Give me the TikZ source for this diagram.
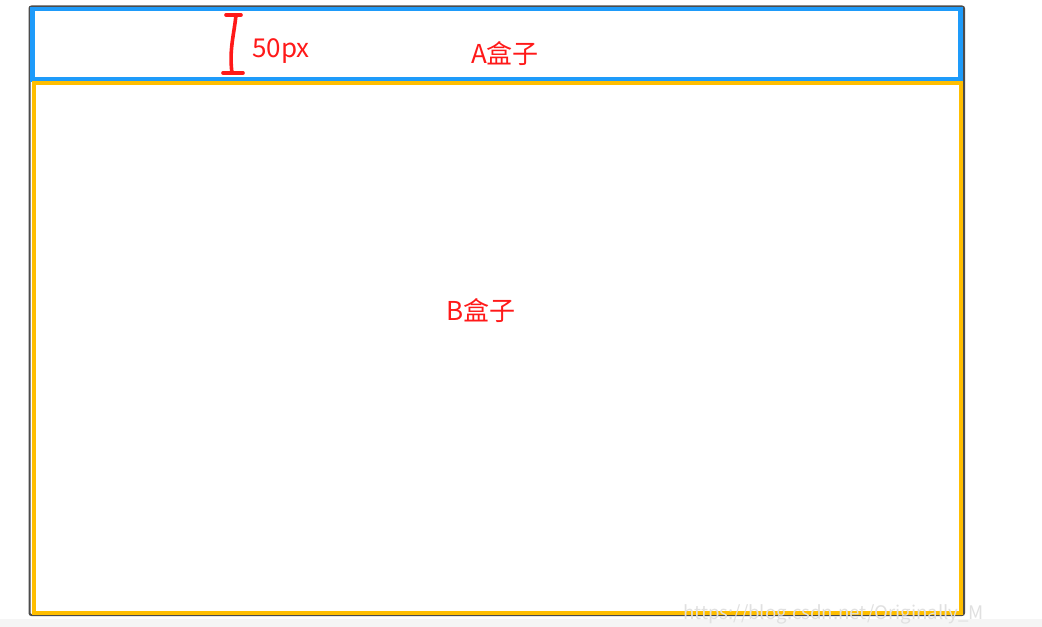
\documentclass[tikz,border=0pt]{standalone}
\usepackage{fontspec}
\setmainfont{Noto Sans CJK SC}
\definecolor{boxblue}{RGB}{30,155,250}
\definecolor{boxgold}{RGB}{255,190,0}
\definecolor{inkred}{RGB}{255,25,25}
\begin{document}
\begin{tikzpicture}[x=0.75pt,y=-0.75pt,
  lbl/.style={text=inkred,inner sep=0pt,font=\fontsize{19.5}{21}\selectfont},
  frame/.style={draw=black!70,line width=1.5pt,rounded corners=1.5pt},
  boxa/.style={draw=boxblue,line width=3.2pt},
  boxb/.style={draw=boxgold,line width=3pt},
  redmark/.style={draw=inkred,line width=2.7pt,line cap=round}]
\useasboundingbox (0,0) rectangle (1042,627);
\fill[white] (0,0) rectangle (1042,627);
\fill[black!4] (0,619) rectangle (1042,627);
% outer frame
\draw[frame] (29.5,6.5) rectangle (964,615);
% A box
\draw[boxa] (32.5,9) rectangle (960.5,79.5);
% B box
\draw[boxb] (33.5,83) rectangle (960.5,612.5);
% I-beam marker
\coordinate (t1) at (226,15); \coordinate (t2) at (241,15);
\coordinate (b1) at (223,73); \coordinate (b2) at (243,73);
\draw[redmark] (t1) -- (t2);
\draw[redmark] (b1) -- (b2);
\draw[redmark] (236,15) .. controls (234,35) and (229,50) .. (232,73);
\node[lbl,anchor=west] (h) at (252,51) {50px};
\node[lbl] (a) at (505,54) {A盒子};
\node[lbl] (b) at (481,311) {B盒子};
\node[text=black!12,inner sep=0pt,anchor=west,font=\fontsize{14}{15}\selectfont] (w) at (683,614) {https://blog.csdn.net/Originally\_M};
\end{tikzpicture}
\end{document}
